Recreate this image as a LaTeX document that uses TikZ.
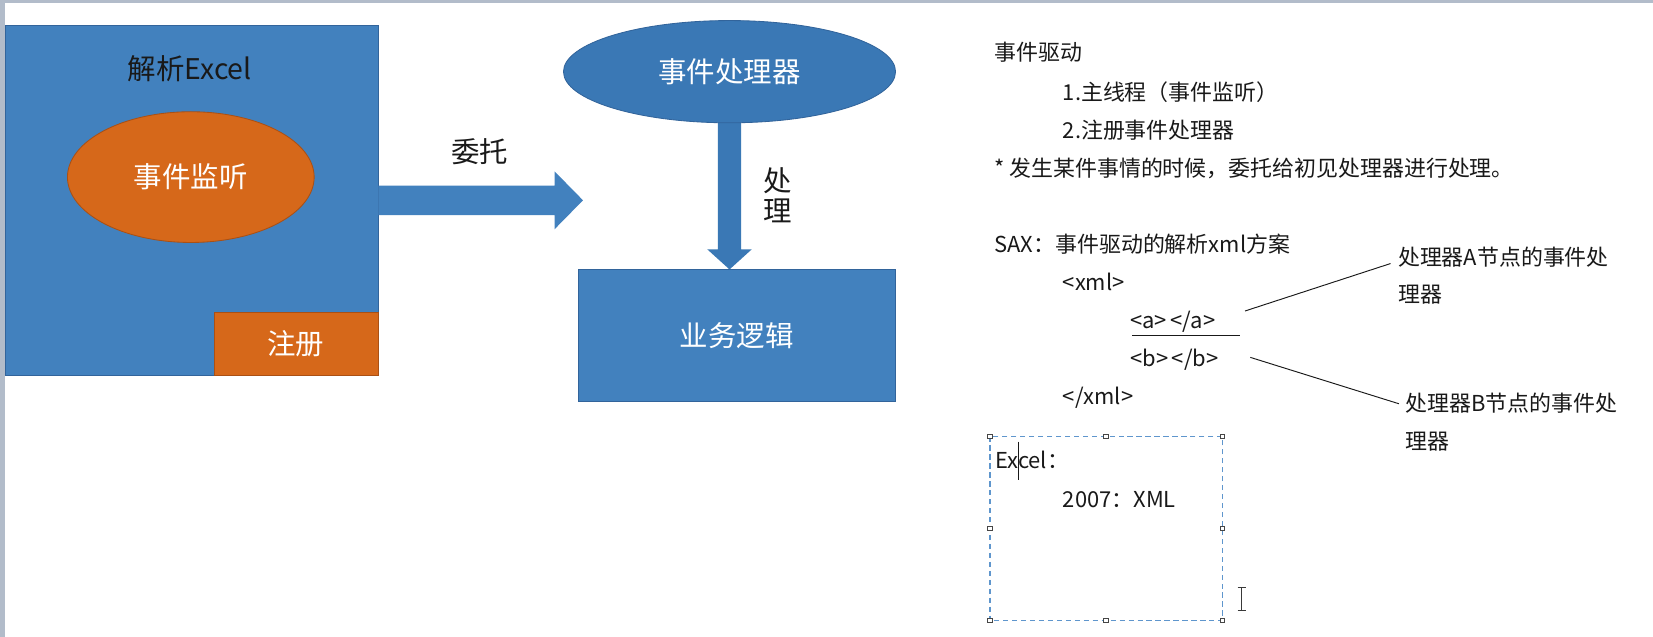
\documentclass[tikz,border=0pt]{standalone}
\usepackage{fontspec}
\setmainfont{Noto Sans CJK SC}
\usetikzlibrary{shapes.geometric,calc,backgrounds}
\definecolor{bgray}{RGB}{178,188,202}
\definecolor{boxblue}{RGB}{66,129,190}
\definecolor{boxedge}{RGB}{50,100,155}
\definecolor{procblue}{RGB}{58,120,181}
\definecolor{orng}{RGB}{214,104,26}
\definecolor{orngedge}{RGB}{170,80,20}
\definecolor{dashblue}{RGB}{95,150,205}
\definecolor{txt}{RGB}{25,25,25}
\begin{document}
\begin{tikzpicture}[x=1pt,y=-1pt,
  big/.style={font=\fontsize{27}{28}\selectfont, inner sep=0pt},
  body/.style={font=\fontsize{20.8}{24}\selectfont, text=txt, anchor=base west, inner sep=0pt},
  handlebox/.style={draw=gray!55!black, fill=white, line width=0.9pt, minimum size=4.5pt, inner sep=0pt, rectangle},
  conn/.style={draw=txt, line width=0.9pt},
  bluebox/.style={draw=boxedge, fill=boxblue, line width=0.8pt, inner sep=0pt},
  orangebox/.style={draw=orngedge, fill=orng, line width=0.8pt, inner sep=0pt}
]
\useasboundingbox (0,0) rectangle (1568,604);

% left block
\node[bluebox, minimum width=353.8pt, minimum height=332pt] (main) at (181.6,190) {};
\node[big, text=txt] (title) at (180,65) {解析Excel};
\node[orangebox, ellipse, minimum width=234pt, minimum height=124pt, text=white, font=\fontsize{27}{29}\selectfont] (listen) at (181,168) {事件监听};
\node[orangebox, minimum width=155.5pt, minimum height=60pt, text=white, font=\fontsize{27}{29}\selectfont] (reg) at (280.75,326) {注册};

% right blocks
\node[draw=boxedge, fill=procblue, line width=0.8pt, ellipse, inner sep=0pt, minimum width=315pt, minimum height=97pt, text=white, font=\fontsize{27}{29}\selectfont] (proc) at (692,68) {事件处理器};
\node[bluebox, minimum width=300pt, minimum height=125pt, text=white, font=\fontsize{27}{29}\selectfont] (biz) at (699,318.5) {业务逻辑};

% block arrows
\coordinate (tipR) at (553,190);
\coordinate (tipD) at (proc.south |- biz.north);
\fill[boxblue] ([yshift=14pt]main.east) -- ([xshift=-27pt,yshift=14pt]tipR) -- ([xshift=-27pt,yshift=27.5pt]tipR) -- (tipR)
  -- ([xshift=-27pt,yshift=-27.5pt]tipR) -- ([xshift=-27pt,yshift=-14pt]tipR) -- ([yshift=-14pt]main.east) -- cycle;
\begin{pgfonlayer}{background}
\fill[white] (0,0) rectangle (1568,604);
\fill[bgray] (0,0) rectangle (1568,2.6);
\fill[bgray] (0,0) rectangle (4.7,604);
\fill[procblue] ([xshift=-11pt,yshift=6pt]proc.south) -- ([xshift=-11pt,yshift=19pt]tipD) -- ([xshift=-21pt,yshift=19pt]tipD) -- (tipD)
  -- ([xshift=21pt,yshift=19pt]tipD) -- ([xshift=11pt,yshift=19pt]tipD) -- ([xshift=11pt,yshift=6pt]proc.south) -- cycle;
\end{pgfonlayer}
\node[big, text=txt] (deleg) at (455,144) {委托};
\node[big, text=txt, align=center] (handle) at (738,185) {处\\理};

% right text
\node[body] (t1) at (943,57.5) {事件驱动};
\node[body] (t2) at (1008,95.5) {1.主线程（事件监听）};
\node[body] (t3) at (1008,131.5) {2.注册事件处理器};
\node[body] (t4) at (943,167.5) {* 发生某件事情的时候，委托给初见处理器进行处理。};
\node[body] (t5) at (943,239.5) {SAX：事件驱动的解析xml方案};
\node[body] (t6) at (1008,275.5) {<xml>};
\node[body] (ta) at (1072,311.5) {<a>\,</a>};
\node[body] (tb) at (1072,347.5) {<b>\,</b>};
\node[body] (t7) at (1008,383.5) {</xml>};
\coordinate (ulL) at (1074,318);
\coordinate (ulR) at (1176,318);
\draw[conn, line width=1.2pt] (ulL) -- (ulR);

\node[body] (la1) at (1326,251.5) {处理器A节点的事件处};
\node[body] (la2) at (1326,286.5) {理器};
\node[body] (lb1) at (1333,390.5) {处理器B节点的事件处};
\node[body] (lb2) at (1333,426.5) {理器};
\coordinate (aS) at (1181,295);
\coordinate (aE) at (1319,250);
\coordinate (bS) at (1186,339);
\coordinate (bE) at (1327,383);
\draw[conn] (aS) -- (aE);
\draw[conn] (bS) -- (bE);

% selected text box
\draw[dashblue, dash pattern=on 5pt off 3.5pt, line width=1.2pt] (939,414) rectangle (1159.5,588.5);
\foreach \n/\p in {h1/{(939,414)}, h2/{(1049.25,414)}, h3/{(1159.5,414)}, h4/{(939,501.25)}, h5/{(1159.5,501.25)}, h6/{(939,588.5)}, h7/{(1049.25,588.5)}, h8/{(1159.5,588.5)}}
  \node[handlebox] (\n) at \p {};
\node[body] (ex) at (944,444) {Excel：};
\node[body] (x7) at (1008,481) {2007：XML};
\coordinate (cT) at (966,419);
\coordinate (cB) at (966,455);
\draw[txt, line width=1.1pt] (cT) -- (cB);

% I-beam mouse cursor
\coordinate (iT) at (1178,557);
\coordinate (iB) at (1178,579);
\draw[gray!45!black, line width=1.1pt] (iT) -- (iB);
\draw[gray!45!black, line width=1.1pt] ([xshift=-4pt]iT) -- ([xshift=4pt]iT);
\draw[gray!45!black, line width=1.1pt] ([xshift=-4pt]iB) -- ([xshift=4pt]iB);
\end{tikzpicture}
\end{document}
